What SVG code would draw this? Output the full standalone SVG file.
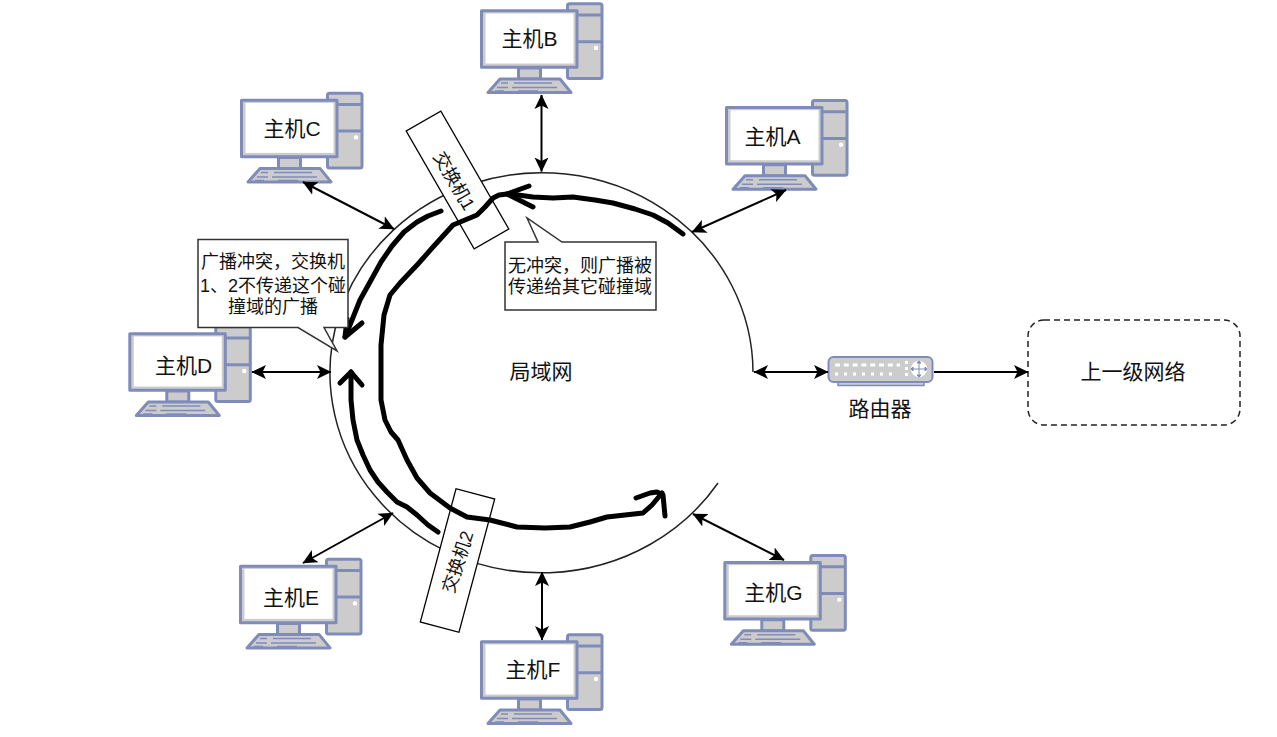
<svg xmlns="http://www.w3.org/2000/svg" width="1277" height="737" viewBox="0 0 1277 737">
<style>
text{font-family:"Liberation Sans","Noto Sans CJK SC",sans-serif;fill:#111;text-anchor:middle}
.host{font-size:21px}
.pc{fill:#ccc;stroke:#7f8cba;stroke-width:3;stroke-linejoin:round}
.scr{fill:#fff;stroke:none}
.link{fill:none;stroke:#000;stroke-width:2}
.ink{fill:none;stroke:#000;stroke-width:5;stroke-linecap:round;stroke-linejoin:round}
.box{fill:#fff;stroke:#000;stroke-width:1.300}
.call{fill:#fff;stroke:#333;stroke-width:1.500}
.small{font-size:18px}
</style>
<defs>
<marker id="ah" viewBox="0 0 15 15" refX="14" refY="7.500" markerWidth="15" markerHeight="15" markerUnits="userSpaceOnUse" orient="auto-start-reverse"><path d="M14.500 7.500L0 0.500L3.500 7.500L0 14.500Z" fill="#000"/></marker>
<g id="pc">
<rect class="pc" x="87.500" y="1.800" width="34.500" height="74.700" rx="2"/>
<path class="pc" d="M87.500 13H122M87.500 39.700H122"/>
<circle cx="116" cy="46" r="2.200" fill="#fff"/>
<rect class="pc" x="38.500" y="66" width="22" height="11"/>
<path class="pc" d="M20 77H80L91 90.500H8Z"/>
<path d="M21 81H28M34 81H72M17 85.500H28M32 85.500H77M15 89H24M38 89H58" stroke="#7f8cba" stroke-width="1.500" fill="none"/>
<rect class="pc" x="1.500" y="8.800" width="95.500" height="56.500"/>
<rect class="scr" x="5.500" y="11.500" width="88" height="50"/>
</g>
</defs>

<g id="lan">
<path d="M753 372A211.500 200 0 1 0 718 483" fill="none" stroke="#222" stroke-width="1.500"/>
<text x="541" y="379" class="host">局域网</text>
</g>

<g id="host-b"><use href="#pc" x="480" y="2"/><text class="host" x="529.500" y="45.500">主机B</text></g>
<g id="host-a"><use href="#pc" x="725" y="98.700"/><text class="host" x="772.500" y="144">主机A</text></g>
<g id="host-c"><use href="#pc" x="240" y="91.400"/><text class="host" x="292" y="136">主机C</text></g>
<g id="host-d"><use href="#pc" x="128.300" y="325"/><text class="host" x="183.500" y="372.500">主机D</text></g>
<g id="host-e"><use href="#pc" x="239" y="557.400"/><text class="host" x="291" y="604.500">主机E</text></g>
<g id="host-f"><use href="#pc" x="480" y="633"/><text class="host" x="533" y="676.500">主机F</text></g>
<g id="host-g"><use href="#pc" x="723.300" y="553.700"/><text class="host" x="773.500" y="599.500">主机G</text></g>

<g id="router">
<rect x="838" y="381" width="86" height="4.500" fill="#ccc" stroke="#7f8cba" stroke-width="1.500"/>
<rect x="828.500" y="357" width="104" height="25" rx="5" fill="#ccc" stroke="#7f8cba" stroke-width="2"/>
<path d="M835 365H900" stroke="#fff" stroke-width="3" stroke-dasharray="5 3.800"/>
<path d="M835 374H898" stroke="#fff" stroke-width="3" stroke-dasharray="3 6"/>
<path d="M906.500 361V378" stroke="#fff" stroke-width="3" stroke-dasharray="3 3"/>
<circle cx="919" cy="369" r="8" fill="#fff"/>
<path d="M913 369H925M919 363V375M913 367L911 369L913 371ZM925 367L927 369L925 371ZM917 363L919 361L921 363ZM917 375L919 377L921 375Z" stroke="#7f8cba" stroke-width="1" fill="#7f8cba"/>
<text class="host" x="880" y="416">路由器</text>
</g>

<g id="upstream">
<rect x="1028" y="320" width="212" height="105" rx="16" fill="#fff" stroke="#222" stroke-width="1.500" stroke-dasharray="6 4"/>
<text class="host" x="1133" y="379">上一级网络</text>
</g>

<g id="connectors">
<path class="link" d="M541.500 95V171.500" marker-start="url(#ah)" marker-end="url(#ah)"/>
<path class="link" d="M786 190L692 232" marker-start="url(#ah)" marker-end="url(#ah)"/>
<path class="link" d="M303 182L394 229" marker-start="url(#ah)" marker-end="url(#ah)"/>
<path class="link" d="M252 372H331" marker-start="url(#ah)" marker-end="url(#ah)"/>
<path class="link" d="M303 563L393 513" marker-start="url(#ah)" marker-end="url(#ah)"/>
<path class="link" d="M542 572V640" marker-start="url(#ah)" marker-end="url(#ah)"/>
<path class="link" d="M784 560L693 514" marker-start="url(#ah)" marker-end="url(#ah)"/>
<path class="link" d="M754 372H828" marker-start="url(#ah)" marker-end="url(#ah)"/>
<path class="link" d="M934 372H1028" marker-end="url(#ah)"/>
</g>

<g id="switch-1">
<rect x="-20" y="-68" width="40" height="136" class="box" transform="translate(457.500 180) rotate(-30)"/>
<text class="small" transform="translate(454 181) rotate(60)" y="6">交换机1</text>
</g>
<g id="switch-2">
<rect x="-20" y="-69" width="40" height="138" class="box" transform="translate(457.500 560.500) rotate(15)"/>
<text class="small" transform="translate(458 562) rotate(-72)" y="6">交换机2</text>
</g>

<g id="broadcast-paths">
<path class="ink" d="M683 234L668 223L653 215L635 209L613 203L595 200L573 197L553 198L533 197L518 195L507 194L499 195L493 198L485 207L477 215L465 220L453 225L443 236L433 247L418 264L400 283L390 295L384 315L381 345L381 375L381 400L385 420L391 432L398 440L407 460L417 478L430 493L450 508L467 517L490 520L517 527L545 528L570 527L590 522L607 517L625 515L643 513L652 505L662 493"/>
<path class="ink" d="M636 498L650 493L657 492L663 495L665 516"/>
<path class="ink" d="M507 194L529 186M507 194L533 207"/>
<path class="ink" d="M441 211L428 216L417 222L404 232L392 246L381 262L370 282L360 300L352 320L345 337"/>
<path class="ink" d="M345 337L347 319M345 337L362 323"/>
<path class="ink" d="M438 532L428 525L417 515L407 507L397 502L387 492L378 482L370 470L363 455L357 440L353 420L351 400L351 372"/>
<path class="ink" d="M351 372L340 383M351 372L362 385"/>
</g>

<g id="note-conflict">
<path class="call" d="M198 239.500H348V327.500H324L337 351L298 327.500H198Z"/>
<text class="small" x="273" y="268">广播冲突，交换机</text>
<text class="small" x="273" y="292">1、2不传递这个碰</text>
<text class="small" x="273" y="313">撞域的广播</text>
</g>

<g id="note-ok">
<path class="call" d="M505 242H538L527 218L562 242H656V310H505Z"/>
<text class="small" x="580" y="272">无冲突，则广播被</text>
<text class="small" x="580" y="293">传递给其它碰撞域</text>
</g>
</svg>
